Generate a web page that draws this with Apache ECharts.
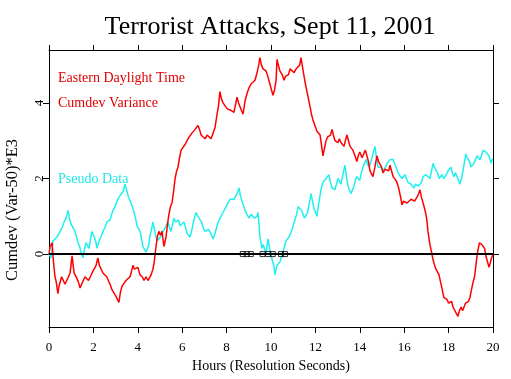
<!DOCTYPE html>
<html><head><meta charset="utf-8">
<script src="https://cdn.jsdelivr.net/npm/echarts@6/dist/echarts.min.js"></script>
<style>html,body{margin:0;padding:0;background:#fff}#c{width:511px;height:379px}</style>
</head><body><div id="c"></div>
<script>
const titleText = 'Terrorist Attacks, Sept 11, 2001';
const xName = 'Hours (Resolution Seconds)';
const yName = 'Cumdev (Var-50)*E3';
const yTicks = [0, 2, 4];
const legendTexts = ['Eastern Daylight Time', 'Cumdev Variance', 'Pseudo Data'];

// [hour, cumdev]
const cumdevVariance = [[0,0],[0.05,0.2],[0.14,0.3],[0.2,-0.2],[0.27,-0.6],[0.33,-0.75],[0.4,-1.05],[0.45,-0.85],[0.5,-0.8],[0.57,-0.6],[0.63,-0.65],[0.72,-0.8],[0.8,-0.75],[0.88,-0.6],[0.95,-0.5],[1.04,-0.05],[1.13,-0.5],[1.2,-0.45],[1.26,-0.65],[1.33,-0.75],[1.4,-0.9],[1.47,-0.8],[1.53,-0.75],[1.62,-0.6],[1.7,-0.55],[1.78,-0.7],[1.85,-0.65],[1.94,-0.5],[2.03,-0.45],[2.12,-0.3],[2.2,-0.1],[2.27,-0.3],[2.34,-0.35],[2.43,-0.5],[2.52,-0.45],[2.6,-0.6],[2.66,-0.55],[2.75,-0.8],[2.84,-0.95],[2.92,-0.9],[3.0,-1.1],[3.08,-1.05],[3.15,-1.28],[3.22,-1.0],[3.29,-0.85],[3.38,-0.8],[3.47,-0.7],[3.56,-0.75],[3.65,-0.6],[3.72,-0.45],[3.78,-0.3],[3.85,-0.4],[3.92,-0.45],[4.0,-0.35],[4.1,-0.55],[4.2,-0.6],[4.28,-0.7],[4.37,-0.6],[4.46,-0.7],[4.53,-0.65],[4.6,-0.55],[4.68,-0.4],[4.73,-0.25],[4.82,0.2],[4.88,0.45],[4.95,0.6],[5.02,0.5],[5.09,0.6],[5.18,0.2],[5.27,0.45],[5.34,0.8],[5.4,1.05],[5.47,1.25],[5.54,1.35],[5.62,1.7],[5.68,2.0],[5.75,2.2],[5.81,2.3],[5.88,2.55],[5.95,2.75],[6.04,2.8],[6.13,2.9],[6.2,2.95],[6.26,3.05],[6.35,3.1],[6.44,3.2],[6.51,3.15],[6.58,3.3],[6.65,3.25],[6.71,3.4],[6.78,3.3],[6.85,3.15],[6.94,3.2],[7.03,3.05],[7.12,3.15],[7.2,3.2],[7.3,3.05],[7.39,3.1],[7.48,3.35],[7.57,3.7],[7.63,3.9],[7.7,4.3],[7.77,4.1],[7.84,4.0],[7.93,3.95],[8.02,3.85],[8.11,3.9],[8.2,3.8],[8.27,3.85],[8.33,3.75],[8.4,3.95],[8.47,4.15],[8.54,4.0],[8.6,3.95],[8.67,3.8],[8.74,3.7],[8.83,4.05],[8.92,4.25],[9.01,4.4],[9.1,4.5],[9.19,4.45],[9.28,4.6],[9.35,4.75],[9.41,4.9],[9.46,5.05],[9.5,5.2],[9.57,5.0],[9.64,4.9],[9.7,4.95],[9.77,4.85],[9.86,4.7],[9.95,4.5],[10.02,4.35],[10.09,4.2],[10.16,4.35],[10.23,4.6],[10.27,5.15],[10.33,5.0],[10.4,4.85],[10.5,4.75],[10.59,4.6],[10.65,4.7],[10.72,4.65],[10.79,4.75],[10.86,4.9],[10.95,4.85],[11.04,4.8],[11.13,4.9],[11.22,4.85],[11.29,5.0],[11.35,5.2],[11.42,4.95],[11.49,4.7],[11.55,4.5],[11.62,4.3],[11.69,4.1],[11.76,3.9],[11.82,3.7],[11.89,3.55],[11.98,3.4],[12.07,3.25],[12.14,3.2],[12.21,3.15],[12.27,2.9],[12.34,2.6],[12.41,2.8],[12.48,3.0],[12.55,3.1],[12.61,3.05],[12.68,3.15],[12.75,3.3],[12.81,3.15],[12.88,3.0],[12.95,3.05],[13.02,2.95],[13.08,3.05],[13.15,2.95],[13.22,2.9],[13.29,2.85],[13.35,3.0],[13.42,3.15],[13.49,3.0],[13.56,2.85],[13.62,2.9],[13.69,2.75],[13.78,2.6],[13.87,2.45],[13.93,2.6],[14.0,2.7],[14.1,2.55],[14.19,2.6],[14.25,2.75],[14.32,2.7],[14.39,2.45],[14.46,2.2],[14.52,2.15],[14.59,2.05],[14.68,2.3],[14.77,2.6],[14.84,2.45],[14.91,2.5],[14.98,2.3],[15.05,2.15],[15.14,2.25],[15.23,2.3],[15.3,2.2],[15.36,2.35],[15.43,2.2],[15.5,2.05],[15.56,2.1],[15.63,1.95],[15.7,1.85],[15.77,1.7],[15.84,1.5],[15.9,1.3],[15.97,1.4],[16.04,1.45],[16.13,1.35],[16.22,1.4],[16.31,1.45],[16.4,1.5],[16.47,1.4],[16.53,1.45],[16.62,1.55],[16.71,1.7],[16.78,1.5],[16.85,1.35],[16.92,1.2],[16.98,1.05],[17.03,0.85],[17.07,0.6],[17.12,0.4],[17.16,0.25],[17.23,0.05],[17.3,-0.15],[17.37,-0.3],[17.43,-0.4],[17.5,-0.45],[17.57,-0.55],[17.64,-0.75],[17.7,-0.9],[17.75,-1.05],[17.79,-1.15],[17.86,-1.1],[17.93,-1.2],[18.0,-1.3],[18.06,-1.35],[18.13,-1.25],[18.2,-1.4],[18.27,-1.45],[18.33,-1.55],[18.38,-1.5],[18.42,-1.65],[18.49,-1.5],[18.56,-1.4],[18.63,-1.5],[18.69,-1.45],[18.76,-1.3],[18.83,-1.35],[18.9,-1.25],[18.96,-1.15],[19.03,-0.95],[19.1,-0.75],[19.17,-0.6],[19.23,-0.3],[19.28,-0.05],[19.32,0.1],[19.39,0.3],[19.46,0.35],[19.5,0.25],[19.55,0.2],[19.62,0.15],[19.68,-0.05],[19.75,-0.2],[19.82,-0.35],[19.87,-0.25],[19.91,-0.15],[20.0,0.0]];

const pseudoData = [[0,0],[0.09,-0.1],[0.18,0.35],[0.27,0.3],[0.36,0.45],[0.43,0.4],[0.5,0.6],[0.59,0.7],[0.68,0.85],[0.77,0.95],[0.86,1.15],[0.92,0.95],[0.99,0.8],[1.08,0.85],[1.17,0.6],[1.24,0.45],[1.31,0.3],[1.38,0.2],[1.44,0.05],[1.49,0.1],[1.53,-0.1],[1.6,0.15],[1.67,0.3],[1.73,0.25],[1.8,0.15],[1.87,0.4],[1.94,0.6],[2.0,0.5],[2.07,0.4],[2.12,0.3],[2.16,0.15],[2.23,0.3],[2.3,0.4],[2.37,0.5],[2.43,0.6],[2.52,0.7],[2.61,0.85],[2.68,0.8],[2.75,0.9],[2.82,1.05],[2.88,1.15],[2.97,1.25],[3.06,1.4],[3.13,1.45],[3.2,1.55],[3.26,1.5],[3.33,1.65],[3.38,1.75],[3.42,1.85],[3.49,1.7],[3.56,1.55],[3.62,1.45],[3.69,1.35],[3.76,1.25],[3.83,1.1],[3.9,0.95],[3.96,0.75],[4.03,0.7],[4.1,0.6],[4.17,0.4],[4.23,0.2],[4.3,0.15],[4.37,0.05],[4.42,0.1],[4.46,0.0],[4.5,0.25],[4.55,0.5],[4.62,0.65],[4.68,0.85],[4.75,0.65],[4.82,0.45],[4.88,0.35],[4.95,0.3],[5.02,0.45],[5.09,0.55],[5.16,0.6],[5.23,0.7],[5.3,0.75],[5.36,0.85],[5.43,0.7],[5.5,0.6],[5.57,0.8],[5.63,0.95],[5.7,0.85],[5.77,0.8],[5.84,0.9],[5.9,0.75],[5.99,0.8],[6.08,0.85],[6.15,0.7],[6.22,0.55],[6.28,0.5],[6.35,0.45],[6.42,0.6],[6.49,0.8],[6.55,0.95],[6.62,1.1],[6.71,1.0],[6.8,1.05],[6.87,0.85],[6.94,0.7],[7.03,0.6],[7.12,0.55],[7.19,0.65],[7.25,0.6],[7.32,0.5],[7.39,0.4],[7.48,0.55],[7.57,0.75],[7.63,0.85],[7.7,0.95],[7.77,1.0],[7.84,1.1],[7.93,1.2],[8.02,1.3],[8.08,1.35],[8.15,1.45],[8.24,1.4],[8.33,1.45],[8.4,1.5],[8.47,1.6],[8.52,1.65],[8.56,1.75],[8.62,1.55],[8.69,1.4],[8.76,1.3],[8.83,1.15],[8.92,1.05],[9.01,0.95],[9.1,1.05],[9.19,1.0],[9.26,0.95],[9.32,0.9],[9.37,1.0],[9.41,1.1],[9.46,0.8],[9.5,0.45],[9.55,0.3],[9.59,0.15],[9.64,0.25],[9.68,0.3],[9.73,0.1],[9.77,0.0],[9.82,0.2],[9.86,0.4],[9.91,0.25],[9.95,0.1],[10.0,0.0],[10.05,-0.15],[10.1,-0.25],[10.14,-0.35],[10.18,-0.55],[10.23,-0.4],[10.27,-0.3],[10.34,-0.3],[10.41,-0.2],[10.48,-0.05],[10.54,0.05],[10.61,0.2],[10.68,0.35],[10.75,0.4],[10.81,0.45],[10.88,0.55],[10.95,0.65],[11.02,0.8],[11.08,0.9],[11.15,1.05],[11.22,1.25],[11.27,1.2],[11.31,1.3],[11.38,1.15],[11.44,1.05],[11.51,0.95],[11.58,0.9],[11.65,1.1],[11.71,1.3],[11.76,1.45],[11.8,1.6],[11.87,1.4],[11.94,1.2],[12.0,1.1],[12.07,1.0],[12.14,1.3],[12.21,1.55],[12.27,1.75],[12.34,1.9],[12.41,1.95],[12.48,2.0],[12.55,2.05],[12.61,2.1],[12.68,1.9],[12.75,1.75],[12.81,1.8],[12.88,1.7],[12.95,1.85],[13.02,2.0],[13.08,1.95],[13.15,1.85],[13.24,2.1],[13.33,2.35],[13.4,2.05],[13.47,1.8],[13.53,1.7],[13.6,1.6],[13.67,1.7],[13.74,1.8],[13.8,1.95],[13.87,2.05],[13.93,2.0],[14.0,1.95],[14.07,2.15],[14.14,2.3],[14.21,2.4],[14.28,2.5],[14.34,2.4],[14.41,2.3],[14.48,2.4],[14.55,2.55],[14.61,2.7],[14.68,2.85],[14.75,2.55],[14.82,2.3],[14.88,2.35],[14.95,2.3],[15.02,2.2],[15.09,2.15],[15.16,2.3],[15.23,2.4],[15.3,2.45],[15.36,2.5],[15.43,2.45],[15.5,2.5],[15.56,2.4],[15.63,2.35],[15.7,2.2],[15.77,2.1],[15.84,2.05],[15.9,2.0],[15.97,2.05],[16.04,2.1],[16.1,2.0],[16.17,1.9],[16.24,1.95],[16.31,1.85],[16.37,1.8],[16.44,1.75],[16.51,1.85],[16.58,1.9],[16.64,1.8],[16.71,1.75],[16.78,1.9],[16.85,2.05],[16.92,2.0],[16.98,2.1],[17.07,2.05],[17.16,2.0],[17.23,2.2],[17.3,2.4],[17.36,2.3],[17.43,2.35],[17.5,2.15],[17.57,2.0],[17.63,2.05],[17.7,2.1],[17.77,2.0],[17.84,1.95],[17.9,2.1],[17.97,2.2],[18.04,2.25],[18.11,2.3],[18.17,2.15],[18.24,2.05],[18.31,2.15],[18.38,2.1],[18.45,1.95],[18.51,1.85],[18.58,2.0],[18.65,2.2],[18.72,2.45],[18.78,2.65],[18.83,2.55],[18.87,2.6],[18.94,2.45],[19.01,2.3],[19.07,2.35],[19.14,2.4],[19.21,2.5],[19.28,2.6],[19.34,2.55],[19.41,2.5],[19.48,2.6],[19.55,2.75],[19.61,2.7],[19.68,2.7],[19.75,2.65],[19.82,2.6],[19.87,2.5],[19.91,2.4],[19.96,2.5],[20.0,2.5]];

const eventHours = [8.73, 8.91, 9.09, 9.62, 9.87, 10.08, 10.45, 10.63];

const serif = '"Liberation Serif", "DejaVu Serif", serif';
const chart = echarts.init(document.getElementById('c'), null, {renderer: 'canvas'});
const axisLine = {show: true, onZero: false, lineStyle: {color: '#000', width: 1}};
const yMin = -1.93, yMax = 5.40;
chart.setOption({
  animation: false,
  backgroundColor: '#fff',
  grid: {left: 49, right: 18, top: 50, bottom: 52},
  xAxis: [{
    type: 'value', min: 0, max: 20, interval: 2, position: 'bottom',
    axisLine: axisLine, axisTick: {show: true, length: 6, inside: false, lineStyle: {color: '#000'}},
    axisLabel: {color: '#000', fontFamily: serif, fontSize: 13, margin: 14},
    splitLine: {show: false},
    name: xName, nameLocation: 'middle', nameGap: 28,
    nameTextStyle: {color: '#000', fontFamily: serif, fontSize: 14}
  }, {
    type: 'value', min: 0, max: 20, interval: 2, position: 'top',
    axisLine: axisLine, axisTick: {show: true, length: 5, inside: false, lineStyle: {color: '#000'}},
    axisLabel: {show: false}, splitLine: {show: false}
  }],
  yAxis: [{
    type: 'value', min: yMin, max: yMax, position: 'left',
    axisLine: axisLine,
    axisTick: {show: true, length: 6, inside: false, customValues: yTicks, lineStyle: {color: '#000'}},
    axisLabel: {color: '#000', fontFamily: serif, fontSize: 13, rotate: 90, margin: 3, customValues: yTicks},
    splitLine: {show: false}
  }, {
    type: 'value', min: yMin, max: yMax, position: 'right',
    axisLine: axisLine,
    axisTick: {show: true, length: 6, inside: false, customValues: yTicks, lineStyle: {color: '#000'}},
    axisLabel: {show: false, customValues: yTicks},
    splitLine: {show: false}
  }],
  graphic: [
    {type: 'text', x: 270, y: 27, style: {text: titleText, font: '26px ' + serif, fill: '#000', align: 'center', verticalAlign: 'middle'}},
    {type: 'text', x: 13, y: 210, rotation: Math.PI / 2, style: {text: yName, font: '16.5px ' + serif, fill: '#000', align: 'center', verticalAlign: 'middle'}},
    {type: 'text', x: 58, y: 78, style: {text: legendTexts[0], font: '14px ' + serif, fill: '#e00000', align: 'left', verticalAlign: 'middle'}},
    {type: 'text', x: 58, y: 103, style: {text: legendTexts[1], font: '14px ' + serif, fill: '#e00000', align: 'left', verticalAlign: 'middle'}},
    {type: 'text', x: 58, y: 179, style: {text: legendTexts[2], font: '14px ' + serif, fill: '#22e6e6', align: 'left', verticalAlign: 'middle'}}
  ],
  series: [
    {type: 'line', data: pseudoData, showSymbol: false, lineStyle: {color: '#1ef0f0', width: 1.5}, z: 2},
    {type: 'line', data: cumdevVariance, showSymbol: false, lineStyle: {color: '#ff0000', width: 1.5}, z: 3},
    {type: 'line', data: [[0, 0], [20, 0]], showSymbol: false, lineStyle: {color: '#000', width: 2}, z: 4},
    {type: 'scatter', data: eventHours.map(h => [h, 0]), symbol: 'rect', symbolSize: 5,
     itemStyle: {color: 'rgba(0,0,0,0)', borderColor: '#000', borderWidth: 1}, z: 5}
  ]
});
</script>
</body></html>
